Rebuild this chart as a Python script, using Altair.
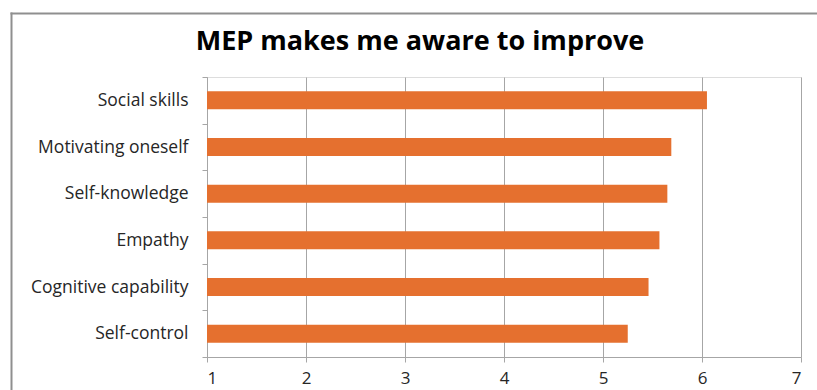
import altair as alt
import pandas as pd

# Mean agreement scores per competence (scale 1-7)
competences = [
    "Social skills",
    "Motivating oneself",
    "Self-knowledge",
    "Empathy",
    "Cognitive capability",
    "Self-control",
]
scores = [6.05, 5.69, 5.65, 5.57, 5.46, 5.25]
x_ticks = [1, 2, 3, 4, 5, 6, 7]
title_text = "MEP makes me aware to improve"

df = pd.DataFrame({"competence": competences, "score": scores})

FONT = "Open Sans"
GRID = "#A6A6A6"
BAR = "#E5702F"

bars = alt.Chart(df).mark_bar(color=BAR, height=alt.RelativeBandSize(0.385)).encode(
    y=alt.Y(
        "competence:N",
        sort=competences,
        title=None,
        scale=alt.Scale(paddingInner=0, paddingOuter=0),
        axis=alt.Axis(
            tickBand="extent",
            tickSize=5,
            tickColor=GRID,
            domainColor=GRID,
            labelPadding=14,
            labelFontSize=17.5,
            labelFont=FONT,
            labelColor="#262626",
            grid=False,
        ),
    ),
    x=alt.X(
        "score:Q",
        title=None,
        scale=alt.Scale(domain=[1, 7], zero=False, nice=False),
        axis=alt.Axis(
            values=x_ticks,
            format="d",
            tickSize=5,
            tickColor=GRID,
            domainColor=GRID,
            gridColor=GRID,
            labelPadding=8,
            labelFontSize=17,
            labelFont=FONT,
            labelColor="#262626",
        ),
    ),
    x2=alt.datum(1),
)

# Chart title, centred over the whole frame
title = alt.Chart().mark_text(
    text=title_text,
    font=FONT,
    fontSize=27,
    fontWeight="bold",
    color="#000000",
    align="center",
    baseline="alphabetic",
).encode(x=alt.value(213), y=alt.value(-27))

# Frame around the chart area (left and top edges)
frame_left = alt.Chart().mark_rule(color="#8F8F8F", strokeWidth=2).encode(
    x=alt.value(-195.5), y=alt.value(-64.5), y2=alt.value(330)
)
frame_top = alt.Chart().mark_rule(color="#8F8F8F", strokeWidth=2).encode(
    x=alt.value(-196.5), x2=alt.value(620), y=alt.value(-63.5)
)

chart = (
    alt.layer(bars, title, frame_left, frame_top)
    .properties(
        width=594,
        height=280,
        autosize=alt.AutoSizeParams(type="none"),
        padding={"left": 207, "top": 77, "right": 16, "bottom": 33},
    )
    .configure_view(stroke=None)
    .configure(background="white")
)

chart.save("out.html", embed_options={"renderer": "svg", "actions": False})
